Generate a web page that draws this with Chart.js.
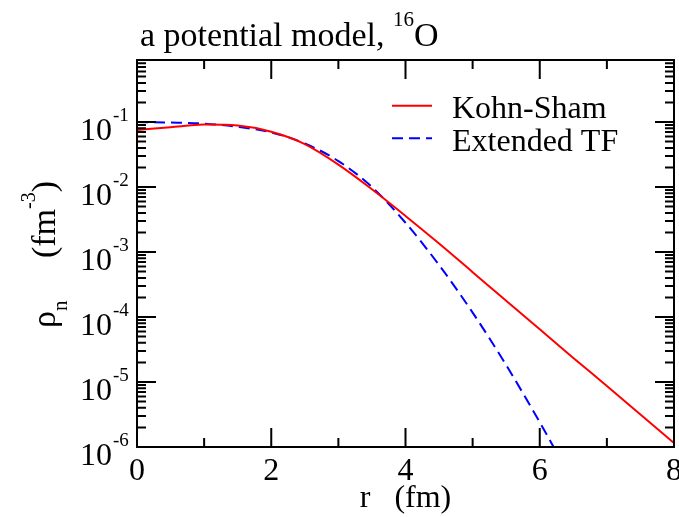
<!DOCTYPE html>
<html><head><meta charset="utf-8">
<script src="https://cdn.jsdelivr.net/npm/chart.js@4/dist/chart.umd.min.js"></script>
<style>html,body{margin:0;padding:0;background:#fff;}canvas{display:block;}</style>
</head><body>
<canvas id="c" width="679" height="517"></canvas>
<script>
// ---- data ----
const rKS   = [0, 0.5, 1.0, 1.5, 2.0, 2.5, 3.0, 3.5, 4.0, 4.5, 5.0, 5.5, 6.0, 6.5, 7.0, 7.5, 8.0];
const rhoKS = [0.0753, 0.0832, 0.0912, 0.0881, 0.0708, 0.0457, 0.0221, 0.00923, 0.00359, 0.00135, 4.90e-4, 1.78e-4, 6.46e-5, 2.34e-5, 8.71e-6, 3.16e-6, 1.15e-6];
const rETF   = [0, 0.5, 1.0, 1.5, 2.0, 2.5, 3.0, 3.5, 4.0, 4.5, 5.0, 5.5, 6.0, 6.25];
const rhoETF = [0.100, 0.0982, 0.0944, 0.0841, 0.0692, 0.0468, 0.0251, 0.0100, 0.00282, 6.31e-4, 1.17e-4, 1.82e-5, 2.40e-6, 8.32e-7];
const seriesNames = ['Kohn-Sham', 'Extended TF'];
const xMajorTicks = [0, 2, 4, 6, 8];
const xMinorTicks = [1, 3, 5, 7];
const yExponents = [-1, -2, -3, -4, -5, -6];
const yMinorMantissas = [2, 3, 4, 5, 6, 7, 8, 9];
const titleMain = 'a potential model, ';
const titleSup = '16';
const titleTail = 'O';
const xTitle = 'r   (fm)';

const FONT = '"Liberation Serif", "Times New Roman", serif';

const decor = {
  id: 'decor',
  afterDatasetsDraw(chart) {
    const ctx = chart.ctx, a = chart.chartArea;
    const xs = chart.scales.x, ys = chart.scales.y;
    ctx.save();
    ctx.strokeStyle = '#000';
    ctx.fillStyle = '#000';
    ctx.lineWidth = 2;
    ctx.lineCap = 'butt';
    const MAJ = 19, MIN = 9;
    ctx.beginPath();
    const xt = (v, len) => {
      const px = xs.getPixelForValue(v);
      ctx.moveTo(px, a.bottom); ctx.lineTo(px, a.bottom - len);
      ctx.moveTo(px, a.top); ctx.lineTo(px, a.top + len);
    };
    xMajorTicks.forEach(v => xt(v, MAJ));
    xMinorTicks.forEach(v => xt(v, MIN));
    const yt = (v, len) => {
      const py = ys.getPixelForValue(v);
      ctx.moveTo(a.left, py); ctx.lineTo(a.left + len, py);
      ctx.moveTo(a.right, py); ctx.lineTo(a.right - len, py);
    };
    yExponents.forEach(e => {
      yt(Math.pow(10, e), MAJ);
      yMinorMantissas.forEach(m => {
        const v = m * Math.pow(10, e);
        if (v <= ys.max * 1.0001) yt(v, MIN);
      });
    });
    ctx.stroke();
    ctx.strokeRect(a.left, a.top, a.right - a.left, a.bottom - a.top);

    // x tick labels
    ctx.font = '32px ' + FONT;
    ctx.textAlign = 'center';
    ctx.textBaseline = 'alphabetic';
    xMajorTicks.forEach(v => ctx.fillText(String(v), xs.getPixelForValue(v), 480));
    ctx.fillText(xTitle, (a.left + a.right) / 2, 507);

    // y tick labels 10^e
    yExponents.forEach(e => {
      const py = ys.getPixelForValue(Math.pow(10, e));
      ctx.font = '32px ' + FONT;
      ctx.textAlign = 'right';
      ctx.fillText('10', 112, py + 18);
      ctx.font = '19px ' + FONT;
      ctx.textAlign = 'left';
      ctx.fillText(String(e), 113, py - 1);
    });

    // y title (rotated)
    ctx.save();
    ctx.translate(55, (a.top + a.bottom) / 2 + 1);
    ctx.rotate(-Math.PI / 2);
    ctx.textAlign = 'left';
    const parts = [
      {t: '\u03C1', f: 34, dy: 0},
      {t: 'n', f: 21, dy: 12},
      {t: '     (fm', f: 34, dy: 0},
      {t: '-3', f: 20, dy: -20},
      {t: ')', f: 34, dy: 0}
    ];
    let total = 0;
    parts.forEach(p => { ctx.font = p.f + 'px ' + FONT; p.w = ctx.measureText(p.t).width; total += p.w; });
    let x = -total / 2;
    parts.forEach(p => { ctx.font = p.f + 'px ' + FONT; ctx.fillText(p.t, x, p.dy); x += p.w; });
    ctx.restore();

    // title
    ctx.textAlign = 'left';
    let tx = 140;
    ctx.font = '34px ' + FONT;
    ctx.fillText(titleMain, tx, 46); tx += ctx.measureText(titleMain).width;
    ctx.font = '21px ' + FONT;
    ctx.fillText(titleSup, tx, 26); tx += ctx.measureText(titleSup).width;
    ctx.font = '34px ' + FONT;
    ctx.fillText(titleTail, tx, 46);

    // legend
    chart.data.datasets.forEach((ds, i) => {
      const ly = 105.7 + i * 32.6;
      ctx.save();
      ctx.strokeStyle = ds.borderColor;
      ctx.lineWidth = ds.borderWidth;
      ctx.setLineDash(ds.borderDash || []);
      ctx.beginPath(); ctx.moveTo(392, ly); ctx.lineTo(432, ly); ctx.stroke();
      ctx.restore();
      ctx.font = '32px ' + FONT;
      ctx.fillStyle = '#000';
      ctx.fillText(ds.label, 452, ly + 12.3);
    });
    ctx.restore();
  }
};

new Chart(document.getElementById('c'), {
  type: 'line',
  data: {
    datasets: [
      { label: seriesNames[0], data: rKS.map((r, i) => ({x: r, y: rhoKS[i]})),
        borderColor: '#ff0000', borderWidth: 2, pointRadius: 0, fill: false, cubicInterpolationMode: 'monotone' },
      { label: seriesNames[1], data: rETF.map((r, i) => ({x: r, y: rhoETF[i]})),
        borderColor: '#0000ff', borderWidth: 2, borderDash: [11, 6], pointRadius: 0, fill: false, cubicInterpolationMode: 'monotone' }
    ]
  },
  options: {
    responsive: false,
    animation: false,
    devicePixelRatio: 1,
    layout: { padding: { left: 137, top: 60, right: 5, bottom: 70 } },
    plugins: { legend: { display: false }, title: { display: false }, tooltip: { enabled: false } },
    scales: {
      x: { type: 'linear', min: 0, max: 8, display: false },
      y: { type: 'logarithmic', min: 1e-6, max: 0.9, display: false }
    }
  },
  plugins: [decor]
});
</script>
</body></html>
